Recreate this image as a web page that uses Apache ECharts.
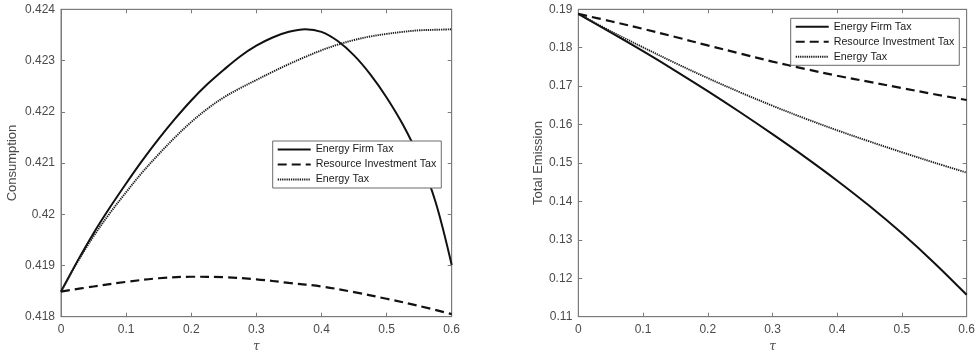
<!DOCTYPE html>
<html>
<head>
<meta charset="utf-8">
<script src="https://cdn.jsdelivr.net/npm/echarts@6/dist/echarts.min.js"></script>
<style>
  html, body { margin: 0; padding: 0; background: #fff; }
  #chart { width: 978px; height: 358px; }
</style>
</head>
<body>
<div id="chart"></div>
<script>
// Tax rate grids: a fine one for the strongly curved consumption paths, a coarse one elsewhere
const tauFine = [0, 0.025, 0.05, 0.075, 0.1, 0.125, 0.15, 0.175, 0.2, 0.225, 0.25, 0.275, 0.3,
                 0.325, 0.35, 0.375, 0.4, 0.425, 0.45, 0.475, 0.5, 0.525, 0.55, 0.575, 0.6];
const tau = [0, 0.05, 0.1, 0.15, 0.2, 0.25, 0.3, 0.35, 0.4, 0.45, 0.5, 0.55, 0.6];

// Consumption under each policy
const consFirmTax = [0.41849, 0.41908, 0.41963, 0.42013, 0.42060, 0.42105, 0.42147, 0.42186, 0.42222,
                     0.42254, 0.42282, 0.42308, 0.42329, 0.42345, 0.42356, 0.42361, 0.42356, 0.42338,
                     0.42310, 0.42273, 0.42228, 0.42175, 0.42110, 0.42025, 0.41901];
const consEnergyTax = [0.41849, 0.41906, 0.41957, 0.42002, 0.42043, 0.42082, 0.42117, 0.42150, 0.42180,
                       0.42206, 0.42228, 0.42246, 0.42262, 0.42278, 0.42293, 0.42307, 0.42320, 0.42331,
                       0.42340, 0.42347, 0.42352, 0.42356, 0.42359, 0.42360, 0.42361];
const consResourceTax = [0.41849, 0.41859, 0.41868, 0.41875, 0.41878, 0.41877, 0.41873, 0.41866,
                         0.41859, 0.41848, 0.41835, 0.41821, 0.41805];

// Total emission under each policy
const emisFirmTax     = [0.1888, 0.1840, 0.1791, 0.1740, 0.1687, 0.1632, 0.1575, 0.1516, 0.1454, 0.1388, 0.1317, 0.1240, 0.1157];
const emisResourceTax = [0.1888, 0.1869, 0.1849, 0.1828, 0.1806, 0.1785, 0.1764, 0.1745, 0.1727, 0.1711, 0.1695, 0.1679, 0.1664];
const emisEnergyTax   = [0.1888, 0.1843, 0.1801, 0.1760, 0.1721, 0.1684, 0.1649, 0.1616, 0.1585, 0.1556, 0.1528, 0.1501, 0.1475];

const seriesNames = ['Energy Firm Tax', 'Resource Investment Tax', 'Energy Tax'];
const xTicks = { min: 0, max: 0.6, interval: 0.1 };
const consTicks = { min: 0.418, max: 0.424, interval: 0.001 };
const emisTicks = { min: 0.11, max: 0.19, interval: 0.01 };

const pairs = (xs, ys) => xs.map((t, i) => [t, ys[i]]);

const axisGray = '#7a7a7a';
const labelGray = '#4a4a4a';
const fontFamily = 'Liberation Sans, Arial, sans-serif';

const styles = [
  { color: '#111', width: 2, type: 'solid' },
  { color: '#111', width: 2.2, type: [9, 5] },
  { color: '#1a1a1a', width: 1.9, type: [1.3, 0.9] }
];

const grids = [
  { left: 61, top: 9.3, width: 390.7, height: 307.4, show: true, borderColor: axisGray, borderWidth: 1 },
  { left: 578.3, top: 9.3, width: 391, height: 307.4, show: true, borderColor: axisGray, borderWidth: 1 }
];

function mainX(gridIndex) {
  return {
    type: 'value', gridIndex, position: 'bottom', ...xTicks,
    name: 'τ', nameLocation: 'middle', nameGap: 22,
    nameTextStyle: { fontFamily: 'DejaVu Serif', fontStyle: 'italic', fontSize: 12, color: labelGray },
    axisLine: { show: true, onZero: false, lineStyle: { color: axisGray } },
    axisTick: { show: true, inside: true, length: 4, lineStyle: { color: axisGray } },
    axisLabel: { color: labelGray, fontSize: 12, fontFamily, margin: 7 },
    splitLine: { show: false }
  };
}
function topX(gridIndex) {
  return {
    type: 'value', gridIndex, position: 'top', ...xTicks,
    axisLine: { show: true, onZero: false, lineStyle: { color: axisGray } },
    axisTick: { show: true, inside: true, length: 4, lineStyle: { color: axisGray } },
    axisLabel: { show: false }, splitLine: { show: false }
  };
}
function mainY(gridIndex, ticks, name, gap) {
  return {
    type: 'value', gridIndex, position: 'left', ...ticks,
    name, nameLocation: 'middle', nameGap: gap,
    nameTextStyle: { fontFamily, fontSize: 13, color: labelGray },
    axisLine: { show: true, onZero: false, lineStyle: { color: axisGray } },
    axisTick: { show: true, inside: true, length: 4, lineStyle: { color: axisGray } },
    axisLabel: { color: labelGray, fontSize: 12, fontFamily, margin: 6 },
    splitLine: { show: false }
  };
}
function rightY(gridIndex, ticks) {
  return {
    type: 'value', gridIndex, position: 'right', ...ticks,
    axisLine: { show: true, onZero: false, lineStyle: { color: axisGray } },
    axisTick: { show: true, inside: true, length: 4, lineStyle: { color: axisGray } },
    axisLabel: { show: false }, splitLine: { show: false }
  };
}

function lineSeries(name, xs, ys, idx, xAxisIndex, yAxisIndex) {
  const s = styles[idx];
  return {
    name, type: 'line', xAxisIndex, yAxisIndex,
    data: pairs(xs, ys), smooth: 0.35, symbol: 'none', showSymbol: false,
    lineStyle: { color: s.color, width: s.width, type: s.type },
    itemStyle: { color: s.color },
    emphasis: { disabled: true }, animation: false
  };
}

function legendBox(left, top, tag) {
  return {
    orient: 'vertical', left, top,
    data: seriesNames.map((n) => n + tag),
    formatter: (n) => n.replace(/\u200b+$/, ''),
    itemWidth: 33, itemHeight: 10, itemGap: 4,
    padding: [3, 5, 3, 4],
    itemStyle: { opacity: 0 },
    backgroundColor: '#fff', borderColor: '#6a6a6a', borderWidth: 1, borderRadius: 0,
    textStyle: { color: '#1a1a1a', fontSize: 10.7, fontFamily },
    selectedMode: false
  };
}

// Zero-width suffix keeps the two panels' legends tied to their own series
const leftTag = '';
const rightTag = '\u200b';

const option = {
  animation: false,
  backgroundColor: '#fff',
  grid: grids,
  xAxis: [mainX(0), topX(0), mainX(1), topX(1)],
  yAxis: [
    mainY(0, consTicks, 'Consumption', 42), rightY(0, consTicks),
    mainY(1, emisTicks, 'Total Emission', 32), rightY(1, emisTicks)
  ],
  legend: [legendBox(272.7, 141, leftTag), legendBox(790.7, 18.3, rightTag)],
  series: [
    lineSeries(seriesNames[0] + leftTag, tauFine, consFirmTax, 0, 0, 0),
    lineSeries(seriesNames[1] + leftTag, tau, consResourceTax, 1, 0, 0),
    lineSeries(seriesNames[2] + leftTag, tauFine, consEnergyTax, 2, 0, 0),
    lineSeries(seriesNames[0] + rightTag, tau, emisFirmTax, 0, 2, 2),
    lineSeries(seriesNames[1] + rightTag, tau, emisResourceTax, 1, 2, 2),
    lineSeries(seriesNames[2] + rightTag, tau, emisEnergyTax, 2, 2, 2)
  ]
};

const chart = echarts.init(document.getElementById('chart'), null, { renderer: 'canvas' });
chart.setOption(option);
</script>
</body>
</html>
